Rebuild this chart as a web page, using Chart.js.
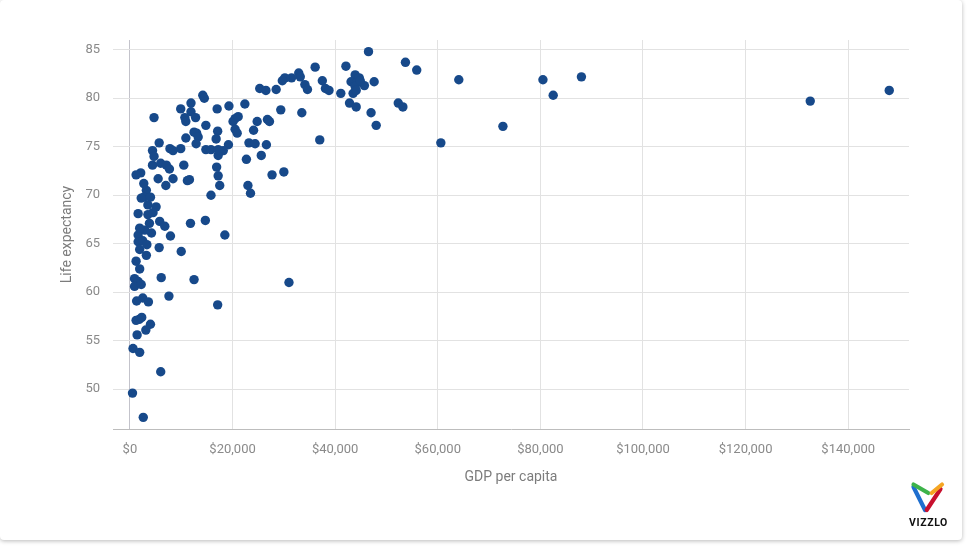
<!DOCTYPE html>
<html>
<head>
<meta charset="utf-8">
<script src="https://cdn.jsdelivr.net/npm/chart.js@4.4.1/dist/chart.umd.min.js"></script>
<style>
  html, body { margin: 0; padding: 0; background: #fff; }
  body { width: 968px; height: 548px; position: relative; overflow: hidden; font-family: Roboto, sans-serif; }
  #card { position: absolute; left: 0; top: 0; width: 962px; height: 540px; background: #fff; border-radius: 4px; box-shadow: 0 1px 4px rgba(0,0,0,0.28); }
  #chart { position: absolute; left: 0; top: 0; }
  #logo { position: absolute; left: 904px; top: 478px; }
</style>
</head>
<body>
<div id="card"></div>
<canvas id="chart" width="968" height="548"></canvas>
<svg id="logo" width="50" height="52" viewBox="0 0 50 52">
  <g stroke-width="4.2" stroke-linecap="round" fill="none">
    <line x1="9.5" y1="9" x2="21" y2="32" stroke="#1f6fcf"/>
    <line x1="36.5" y1="11" x2="22.7" y2="32" stroke="#c8102e"/>
    <line x1="9.5" y1="6.5" x2="24.3" y2="15" stroke="#3db34a"/>
    <line x1="38" y1="6.5" x2="27.7" y2="15" stroke="#f5a623"/>
  </g>
  <text x="24.5" y="47.5" text-anchor="middle" font-family="Roboto, sans-serif" font-weight="bold" font-size="10.5" letter-spacing="0.6" fill="#111">VIZZLO</text>
</svg>
<script>
// GDP per capita (US$) and life expectancy (years), one entry per country
const gdpPerCapita = [
  148000, 132600, 88000, 80500, 82500, 64100, 72700, 60600, 46500, 53700,
  55900, 42100, 36100, 32900, 33200, 31500, 30200, 29700, 34100, 34600,
  37500, 38100, 38800, 28500, 25300, 26500, 22400, 29400, 33500, 24800,
  26800, 27200, 24100, 23200, 24400, 26600, 22700, 25600, 37000, 41100,
  42800, 44100, 47000, 48000, 52300, 53200, 47600, 45700, 43900, 44700,
  43100, 44200, 43900, 43500, 44100, 44900, 27700, 30000, 23000, 23500,
  31000, 14200, 14500, 11900, 9900, 4700, 11900, 10700, 10900, 12800,
  17000, 19300, 14800, 17100, 16800, 20500, 20100, 21100, 20500, 20900,
  13000, 12500, 13300, 10900, 12900, 5700, 9900, 7800, 8400, 14800,
  15800, 4400, 19200, 18200, 17200, 4700, 16900, 10500, 4400, 17200,
  17200, 17500, 15800, 6000, 7100, 7700, 2100, 1200, 5500, 8400,
  11200, 11600, 7000, 3200, 2700, 4000, 2200, 3500, 1600, 3500,
  4500, 3800, 5800, 6800, 11800, 14700, 18500, 7900, 4200, 1600,
  1600, 2500, 1900, 3200, 5700, 10000, 1200, 1900, 900, 1600,
  6100, 12500, 900, 2200, 2500, 7600, 17100, 1300, 3600, 1800,
  1200, 2300, 4000, 3100, 1400, 600, 1900, 6000, 500, 2600,
  2900, 1900, 3300, 2700, 5100
];
const lifeExpectancy = [
  80.8, 79.7, 82.2, 81.9, 80.3, 81.9, 77.1, 75.4, 84.8, 83.7,
  82.9, 83.3, 83.2, 82.6, 82.2, 82.1, 82.1, 81.8, 81.4, 80.9,
  81.8, 81.0, 80.8, 80.9, 81.0, 80.8, 79.4, 78.8, 78.5, 77.6,
  77.8, 77.6, 76.7, 75.4, 75.3, 75.2, 73.7, 74.1, 75.7, 80.5,
  79.5, 79.1, 78.5, 77.2, 79.5, 79.1, 81.7, 81.3, 82.4, 82.1,
  81.7, 81.6, 81.2, 80.5, 80.8, 81.8, 72.1, 72.4, 71.0, 70.2,
  61.0, 80.3, 80.0, 79.5, 78.9, 78.0, 78.6, 78.0, 77.6, 78.0,
  78.9, 79.2, 77.2, 76.6, 75.8, 77.9, 77.6, 78.1, 76.8, 76.4,
  76.4, 76.5, 76.0, 75.9, 75.3, 75.4, 74.8, 74.8, 74.6, 74.7,
  74.7, 74.6, 75.2, 74.6, 74.1, 74.0, 72.9, 73.1, 73.1, 74.7,
  72.0, 71.0, 70.0, 73.3, 73.1, 72.7, 72.3, 72.1, 71.7, 71.7,
  71.5, 71.6, 71.0, 70.5, 69.8, 69.8, 69.7, 69.0, 68.1, 68.0,
  68.2, 67.1, 67.3, 66.8, 67.1, 67.4, 65.9, 65.8, 66.1, 65.9,
  65.2, 65.3, 64.4, 63.8, 64.6, 64.2, 63.2, 62.4, 61.4, 61.1,
  61.5, 61.3, 60.6, 60.8, 59.4, 59.6, 58.7, 59.1, 59.0, 57.2,
  57.1, 57.4, 56.7, 56.1, 55.6, 54.2, 53.8, 51.8, 49.6, 47.1,
  66.4, 66.6, 64.9, 71.2, 68.8
];

const xTicks = [0, 20000, 40000, 60000, 80000, 100000, 120000, 140000];
const yTicks = [50, 55, 60, 65, 70, 75, 80, 85];

const TICK_FONT = { family: 'Roboto', size: 13 };
const TITLE_FONT = { family: 'Roboto', size: 14 };

new Chart(document.getElementById('chart'), {
  type: 'scatter',
  data: {
    datasets: [{
      data: gdpPerCapita.map((g, i) => ({ x: g, y: lifeExpectancy[i] })),
      backgroundColor: '#17498a',
      borderWidth: 0,
      pointRadius: 4.7,
      pointHoverRadius: 4.7,
    }],
  },
  options: {
    responsive: false,
    animation: false,
    layout: { padding: { top: 40, right: 59, bottom: 49, left: 0 } },
    plugins: { legend: { display: false }, tooltip: { enabled: false } },
    scales: {
      x: {
        type: 'linear',
        min: -3300,
        max: 151850,
        afterBuildTicks: (s) => { s.ticks = xTicks.map((v) => ({ value: v })); },
        afterFit: (s) => { s.height = 70; },
        grid: {
          color: (c) => (c.tick && c.tick.value === 0 ? '#c3c3cb' : '#e2e2e2'),
          drawTicks: false,
        },
        border: { display: true, color: '#bdbdbd' },
        ticks: {
          padding: 13,
          color: '#8a8a8a',
          font: TICK_FONT,
          maxRotation: 0,
          callback: (v) => '$' + Number(v).toLocaleString('en-US'),
        },
        title: { display: true, text: 'GDP per capita', color: '#7c7c7c', font: TITLE_FONT, padding: { top: 0, bottom: 13.6 } },
      },
      y: {
        min: 45.9,
        max: 86,
        afterBuildTicks: (s) => { s.ticks = yTicks.map((v) => ({ value: v })); },
        afterFit: (s) => { s.width = 113; },
        grid: { color: '#e2e2e2', drawTicks: false },
        border: { display: false },
        ticks: { padding: 13, color: '#8a8a8a', font: TICK_FONT },
        title: { display: true, text: 'Life expectancy', color: '#7c7c7c', font: TITLE_FONT, padding: { top: 58.6, bottom: 0 } },
      },
    },
  },
});
</script>
</body>
</html>
